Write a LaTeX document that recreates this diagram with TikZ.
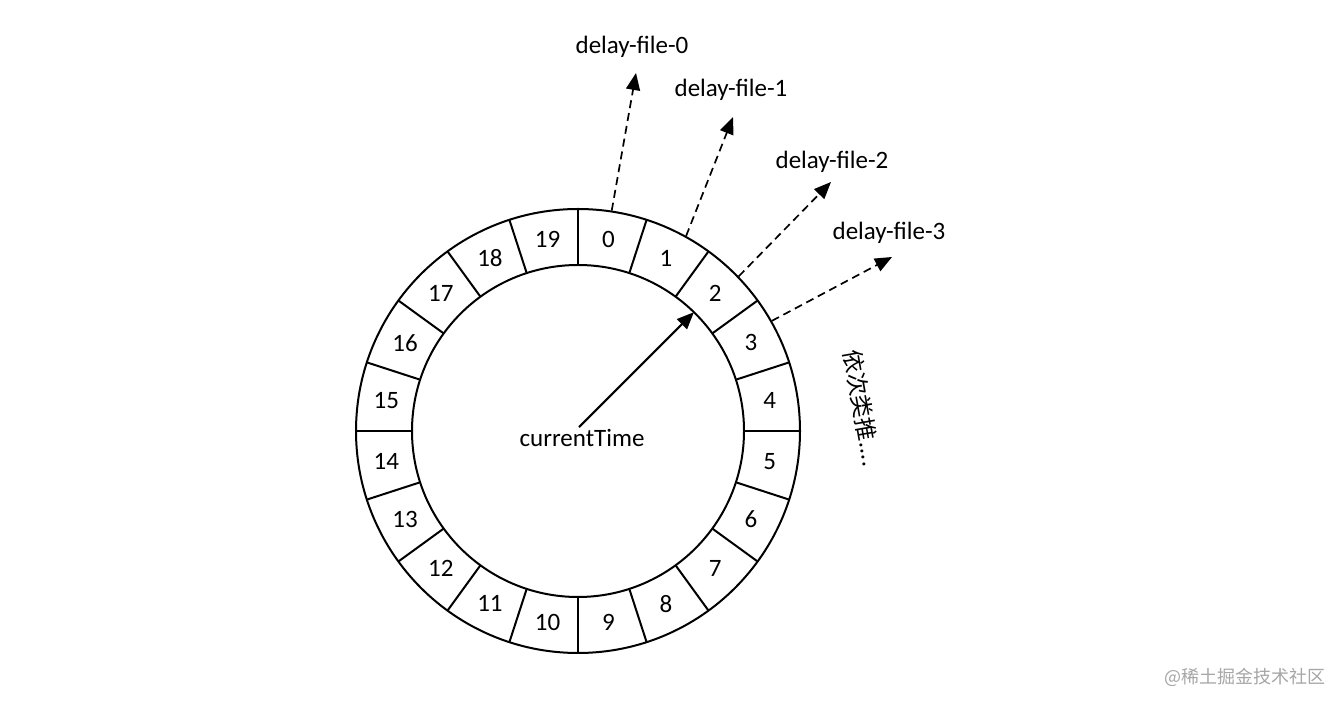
\documentclass[tikz,border=0pt]{standalone}
\usepackage{fontspec}
\setmainfont{Carlito}
\newfontfamily\cjk{Noto Sans CJK SC}
\usetikzlibrary{arrows.meta,calc}
\begin{document}
\begin{tikzpicture}[x=1pt,y=1pt,
  ring/.style={line width=2pt},
  lbl/.style={font=\fontsize{25}{30}\selectfont, inner sep=0pt},
  dasharrow/.style={line width=1.7pt, dash pattern=on 8pt off 5pt, -{Triangle[length=17pt,width=14pt]}},
  solidarrow/.style={line width=2pt, -{Triangle[length=17pt,width=14pt]}}]
\useasboundingbox (0,0) rectangle (1344,706);
\fill[white] (0,0) rectangle (1344,706);
\coordinate (c) at (578,275);
% ring
\draw[ring] (c) circle[radius=222pt];
\draw[ring] (c) circle[radius=166pt];
\foreach \k in {0,...,19}{
  \draw[ring] ($(c)+({90-18*\k}:166pt)$) -- ($(c)+({90-18*\k}:222pt)$);
}
\foreach \i in {0,...,19}{
  \node[lbl] (s\i) at ($(c)+({81-18*\i}:194pt)$) {\i};
}
% current time
\node[lbl] (ct) at (582,268) {currentTime};
\coordinate (p2) at ($(c)+(45.7:166pt)$);
\draw[solidarrow] ([xshift=-3pt,yshift=2pt]ct.north) -- (p2);
% delay files
\node[lbl] (d0) at (632,659) {delay-file-0};
\node[lbl] (d1) at (731,616) {delay-file-1};
\node[lbl] (d2) at (832,544) {delay-file-2};
\node[lbl] (d3) at (889,473) {delay-file-3};
\coordinate (a0) at ($(c)+(81.3:223pt)$);
\coordinate (a1) at ($(c)+(61:223pt)$);
\coordinate (a2) at ($(c)+(43.9:223pt)$);
\coordinate (a3) at ($(c)+(29.6:223pt)$);
\coordinate (t0) at (636,633);
\coordinate (t1) at (733,589);
\coordinate (t2) at (831,524);
\coordinate (t3) at (892,449);
\draw[dasharrow] (a0) -- (t0);
\draw[dasharrow] (a1) -- (t1);
\draw[dasharrow] (a2) -- (t2);
\draw[dasharrow] (a3) -- (t3);
% vertical text
\node[font=\cjk\fontsize{23}{28}\selectfont, rotate=-80, inner sep=0pt] (etc) at (862,298) {依次类推....};
% watermark
\node[font=\cjk\fontsize{18}{22}\selectfont, text=black!35, inner sep=0pt] (wm) at (1245,29) {@稀土掘金技术社区};
\end{tikzpicture}
\end{document}
